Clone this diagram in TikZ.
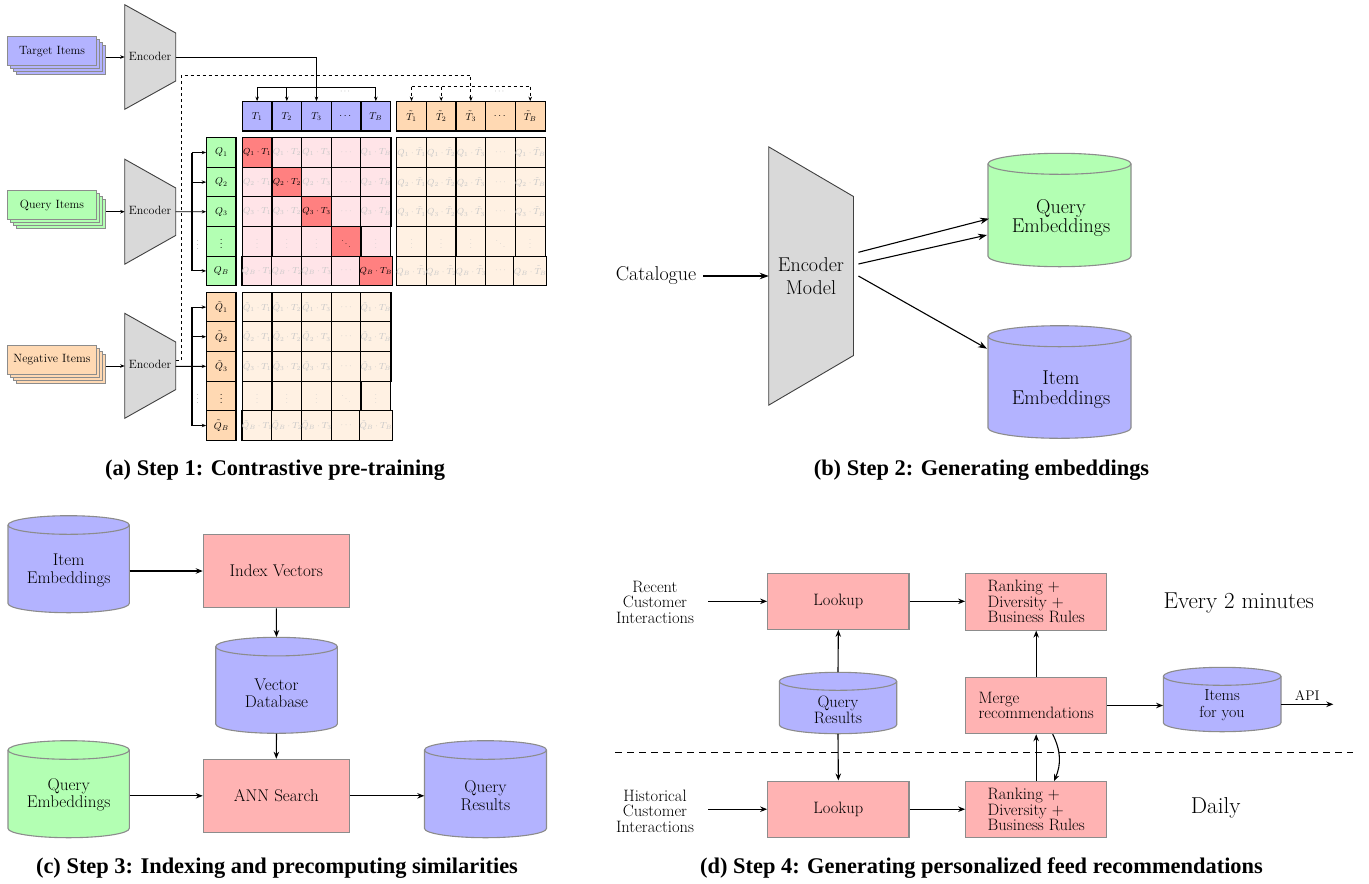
\RequirePackage{fix-cm}
\documentclass[tikz,border=0pt]{standalone}
\usepackage{amsmath}
\usepackage{fontspec}
\newfontfamily\capfont{Liberation Serif}
\usetikzlibrary{arrows.meta,calc}
\definecolor{cblue}{HTML}{B3B3FF}
\definecolor{cgreen}{HTML}{B3FFB3}
\definecolor{cred}{HTML}{FFB3B3}
\definecolor{corange}{HTML}{FFD9B3}
\definecolor{cpink}{HTML}{FFE4E8}
\definecolor{cdiag}{HTML}{FF8080}
\definecolor{cpeach}{HTML}{FFF1E3}
\definecolor{cgray}{HTML}{D9D9D9}
\definecolor{cborder}{HTML}{8C8C8C}
\definecolor{cfaint}{HTML}{C8C8C8}
\newcommand\fs[2]{\fontsize{#1}{#2}\selectfont}
\newcommand\lbl[1]{\ifcase#1\or1\or2\or3\or\relax\or B\fi}
\newcommand\cellm[4]{\ifnum#1=4 \ifnum#2=4 \ddots\else\vdots\fi\else\ifnum#2=4 \cdots\else#3_{\lbl{#1}}\cdot#4_{\lbl{#2}}\fi\fi}
\tikzset{
  arrA/.style={-{Stealth[length=4.5pt,width=3.5pt]}, line width=0.9pt},
  arrB/.style={-{Stealth[length=9pt,width=6.5pt]}, line width=1.1pt},
  arrC/.style={-{Stealth[length=7pt,width=5.5pt]}, line width=1.1pt},
  cell/.style={draw=black, line width=1.1pt, minimum width=29.67pt, minimum height=29.6pt, inner sep=0pt, font=\fs{8.8}{10}},
  hcell/.style={cell, font=\fs{10}{12}},
  stackb/.style={draw=cborder, line width=0.9pt, minimum width=89.4pt, minimum height=29pt, inner sep=0pt, font=\fs{12}{14}},
  encA/.style={fill=cgray, draw=black!75, line width=0.9pt},
  boxC/.style={fill=cred, draw=cborder, line width=1.1pt, inner sep=0pt, font=\fs{17}{17.4}},
  boxD/.style={fill=cred, draw=cborder, line width=1.1pt, inner sep=0pt, font=\fs{16.5}{15.5}, align=left},
  cylline/.style={draw=cborder, line width=1.1pt},
  txtC/.style={inner sep=0pt, align=center, font=\fs{17}{17.4}},
  txtD/.style={inner sep=0pt, align=center, font=\fs{16.5}{15.5}},
  txtB/.style={inner sep=0pt, align=center, font=\fs{20}{19.5}},
  capt/.style={anchor=base, inner sep=0pt, font=\capfont\bfseries\fs{22.4}{26}},
  brk/.style={line width=1.1pt},
  brkthick/.style={line width=1.8pt},
  dotlab/.style={inner sep=0pt, text=black!45, font=\fs{8}{9}}
}
\newcommand\dbcyl[7]{%
  \pgfmathsetmacro\cxa{(#2+#4)/2}%
  \pgfmathsetmacro\cya{(#3+#5)/2}%
  \pgfmathsetmacro\rxa{(#4-#2)/2}%
  \pgfmathsetmacro\yta{#3+#6}%
  \pgfmathsetmacro\yba{#5-#6}%
  \pgfmathsetmacro\wa{#4-#2}%
  \pgfmathsetmacro\ha{#5-#3}%
  \path[cylline, fill=#7] (#2,\yta) -- (#2,\yba) arc[start angle=180,end angle=360,x radius=\rxa pt,y radius=#6pt] -- (#4,\yta) arc[start angle=0,end angle=180,x radius=\rxa pt,y radius=#6pt] -- cycle;
  \draw[cylline] (#2,\yta) arc[start angle=180,end angle=360,x radius=\rxa pt,y radius=#6pt];
  \node[inner sep=0pt, minimum width=\wa pt, minimum height=\ha pt] (#1) at (\cxa,\cya) {};
}
\newcommand\encshape[6]{% xl yc xr hl hr style
  \filldraw[#6] (#1,{#2-#4/2}) -- (#3,{#2-#5/2}) -- (#3,{#2+#5/2}) -- (#1,{#2+#4/2}) -- cycle;
}
\begin{document}
\begin{tikzpicture}[x=1pt,y=-1pt]
\useasboundingbox (0,0) rectangle (1369,884);
\fill[white] (0,0) rectangle (1369,884);

%%%%%%%%%%%%%%%% PANEL (a)
\foreach \k in {3,2,1} \filldraw[draw=cborder, line width=0.9pt, fill=cblue] ({7.3+3*\k},{36.7+3*\k}) rectangle ++(89.4,29);
\node[stackb, fill=cblue] (tgt) at (52,51.2) {Target Items};
\foreach \k in {3,2,1} \filldraw[draw=cborder, line width=0.9pt, fill=cgreen] ({7.3+3*\k},{190.7+3*\k}) rectangle ++(89.4,29);
\node[stackb, fill=cgreen] (qry) at (52,205.2) {Query Items};
\foreach \k in {3,2,1} \filldraw[draw=cborder, line width=0.9pt, fill=corange] ({7.3+3*\k},{345.3+3*\k}) rectangle ++(89.4,29);
\node[stackb, fill=corange] (neg) at (52,359.8) {Negative Items};

\encshape{124.7}{57}{175.7}{104.6}{48}{encA}
\node[inner sep=0pt, font=\fs{12}{14}] (encT) at (150,56) {Encoder};
\encshape{124.7}{211.7}{175.7}{105}{47.5}{encA}
\node[inner sep=0pt, font=\fs{12}{14}] (encQ) at (150,210.7) {Encoder};
\encshape{124.7}{365.8}{175.7}{105}{47.6}{encA}
\node[inner sep=0pt, font=\fs{12}{14}] (encN) at (150,364.8) {Encoder};

\coordinate (tgt-o) at (106,57);   \coordinate (encT-i) at (124.7,57);
\coordinate (qry-o) at (106,211.7); \coordinate (encQ-i) at (124.7,211.7);
\coordinate (neg-o) at (106,366);  \coordinate (encN-i) at (124.7,366);
\draw[arrA] (tgt-o) -- (encT-i);
\draw[arrA] (qry-o) -- (encQ-i);
\draw[arrA] (neg-o) -- (encN-i);

\foreach \j/\lab in {1/T_1,2/T_2,3/T_3,4/\cdots,5/T_B}
  \node[hcell, minimum height=29.3pt, fill=cblue] (t\j) at ({242.3+29.67*(\j-0.5)},116.35) {$\lab$};
\foreach \j/\lab in {1/\tilde{T}_1,2/\tilde{T}_2,3/\tilde{T}_3,4/\cdots,5/\tilde{T}_B}
  \node[hcell, minimum height=29.3pt, fill=corange] (tt\j) at ({396.7+29.67*(\j-0.5)},116.35) {$\lab$};
\foreach \i/\lab in {1/Q_1,2/Q_2,3/Q_3,4/\vdots,5/Q_B}
  \node[hcell, minimum width=29.3pt, fill=cgreen] (q\i) at (221.35,{137.7+29.6*(\i-0.5)}) {$\lab$};
\foreach \i/\lab in {1/\tilde{Q}_1,2/\tilde{Q}_2,3/\tilde{Q}_3,4/\vdots,5/\tilde{Q}_B}
  \node[hcell, minimum width=29.3pt, fill=corange] (qq\i) at (221.35,{292.3+29.6*(\i-0.5)}) {$\lab$};

\foreach \i in {1,...,5}{\foreach \j in {1,...,5}{%
  \ifnum\i=\j \def\cf{cdiag}\def\ct{black}\else\def\cf{cpink}\def\ct{cfaint}\fi
  \node[cell, fill=\cf, text=\ct] (qt-\i-\j) at ({242.3+29.67*(\j-0.5)},{137.7+29.6*(\i-0.5)}) {$\cellm{\i}{\j}{Q}{T}$};
  \node[cell, fill=cpeach, text=cfaint] (qtt-\i-\j) at ({396.7+29.67*(\j-0.5)},{137.7+29.6*(\i-0.5)}) {$\cellm{\i}{\j}{Q}{\tilde{T}}$};
  \node[cell, fill=cpeach, text=cfaint] (qqt-\i-\j) at ({242.3+29.67*(\j-0.5)},{292.3+29.6*(\i-0.5)}) {$\cellm{\i}{\j}{\tilde{Q}}{T}$};
}}

\coordinate (tbar) at (0,87.3);
\coordinate (encT-o) at (175.7,57);
\draw[brk] (t1.north |- tbar) -- (t5.north |- tbar);
\foreach \j in {1,2,5} \draw[arrA] (t\j.north |- tbar) -- (t\j.north);
\draw[arrA] (encT-o) -| (t3.north);
\node[dotlab] (tdots) at (345.7,91.5) {$\cdots$};

\coordinate (ttbar) at (0,86.7);
\coordinate (encN-d) at (175.7,360);
\coordinate (dcorner) at (181.7,75);
\draw[brk, dashed] (tt1.north |- ttbar) -- (tt5.north |- ttbar);
\foreach \j in {1,2,5} \draw[arrA, dashed] (tt\j.north |- ttbar) -- (tt\j.north);
\draw[arrA, dashed] (encN-d) -| (dcorner) -| (tt3.north);
\node[dotlab] (ttdots) at (500,92) {$\cdots$};

\coordinate (qbar) at (191.7,0);
\coordinate (encQ-o) at (175.7,211.7);
\draw[brkthick] (q1.west -| qbar) -- (q5.west -| qbar);
\foreach \i in {1,2,5} \draw[arrA] (q\i.west -| qbar) -- (q\i.west);
\draw[arrA] (encQ-o) -- (q3.west);
\node[dotlab, text=black!60] (qdots) at (197.7,242) {$\vdots$};

\coordinate (encN-o) at (175.7,366.3);
\draw[brkthick] (qq1.west -| qbar) -- (qq5.west -| qbar);
\foreach \i in {1,2,5} \draw[arrA] (qq\i.west -| qbar) -- (qq\i.west);
\draw[arrA] (encN-o) -- (qq3.west);
\node[dotlab, text=black!60] (qqdots) at (197.7,396.5) {$\vdots$};

\node[capt] (capa) at (275,475.5) {(a) Step 1: Contrastive pre-training};

%%%%%%%%%%%%%%%% PANEL (b)
\node[inner xsep=7pt, inner ysep=2pt, font=\fs{20}{24}] (cat) at (656,276) {Catalogue};
\encshape{768.7}{276}{853.5}{258.3}{159}{encA}
\node[txtB, font=\fs{20}{23}] (encM) at (811,276.5) {Encoder\\Model};
\coordinate (encM-i) at (768.7,276);
\draw[arrB] (cat.east) -- (encM-i);
\dbcyl{qeB}{988}{153.3}{1131}{266.7}{10.5}{cgreen}
\node[txtB] (qeBt) at (1061,218) {Query\\Embeddings};
\dbcyl{ieB}{988}{325.7}{1131}{438.3}{10.5}{cblue}
\node[txtB] (ieBt) at (1061,389.7) {Item\\Embeddings};
\coordinate (encM-o1) at (858.4,252.3);
\coordinate (encM-o2) at (858.4,264);
\coordinate (encM-o3) at (858.4,276);
\coordinate (qeB-i1) at (989,218.7);
\coordinate (qeB-i2) at (987,235);
\coordinate (ieB-i) at (987,348.7);
\draw[arrB] (encM-o1) -- (qeB-i1);
\draw[arrB] (encM-o2) -- (qeB-i2);
\draw[arrB] (encM-o3) -- (ieB-i);

\node[capt] (capb) at (981.5,475.5) {(b) Step 2: Generating embeddings};

%%%%%%%%%%%%%%%% PANEL (c)
\dbcyl{ieC}{8}{515.7}{129.3}{612.7}{9.3}{cblue}
\node[txtC] (ieCt) at (68.7,570.4) {Item\\Embeddings};
\node[boxC, minimum width=146pt, minimum height=73.4pt] (idx) at (276.3,571) {Index Vectors};
\dbcyl{vdb}{215.7}{637.3}{337.3}{733.3}{9.3}{cblue}
\node[txtC] (vdbt) at (276.5,693) {Vector\\Database};
\node[boxC, minimum width=146pt, minimum height=73pt] (ann) at (276.3,795.8) {ANN Search};
\dbcyl{qeC}{8}{740.7}{129.3}{837.7}{9.3}{cgreen}
\node[txtC] (qeCt) at (68.7,794.7) {Query\\Embeddings};
\dbcyl{qrC}{424.5}{740.7}{546.5}{837.7}{9.3}{cblue}
\node[txtC] (qrCt) at (485.5,795.5) {Query\\Results};
\draw[arrC] (ieC.east |- idx.west) -- (idx.west);
\draw[arrC] (idx.south) -- (vdb.north);
\draw[arrC] (vdb.south) -- (ann.north);
\draw[arrC] (qeC.east |- ann.west) -- (ann.west);
\draw[arrC] (ann.east) -- (qrC.west |- ann.east);

\node[capt] (capc) at (277,873) {(c) Step 3: Indexing and precomputing similarities};

%%%%%%%%%%%%%%%% PANEL (d)
\node[txtD, inner xsep=14pt] (recent) at (655,602.3) {Recent\\Customer\\Interactions};
\node[txtD, inner xsep=14pt] (hist) at (655,811) {Historical\\Customer\\Interactions};
\node[boxD, minimum width=141.3pt, minimum height=56pt] (lk1) at (838.35,601.3) {Lookup};
\node[boxD, minimum width=141pt, minimum height=56.7pt] (rk1) at (1036.2,601.7) {Ranking +\\Diversity +\\Business Rules};
\node[boxD, minimum width=141pt, minimum height=56.4pt] (merge) at (1036.2,705.5) {Merge\\recommendations};
\node[boxD, minimum width=141.3pt, minimum height=56.3pt] (lk2) at (838.35,809.2) {Lookup};
\node[boxD, minimum width=141pt, minimum height=56pt] (rk2) at (1036.2,809.7) {Ranking +\\Diversity +\\Business Rules};
\dbcyl{qrD}{779.3}{672.3}{896.7}{733.7}{9}{cblue}
\node[txtD, font=\fs{16.5}{14.5}] (qrDt) at (838,709.7) {Query\\Results};
\dbcyl{itD}{1163.3}{667.3}{1281}{731.7}{9}{cblue}
\node[txtD, font=\fs{16}{16.5}] (itDt) at (1222,705) {Items\\for you};
\node[inner sep=0pt, font=\fs{23}{26}] (every) at (1238.7,602.7) {Every 2 minutes};
\node[inner sep=0pt, font=\fs{23}{26}] (daily) at (1215.7,808.3) {Daily};
\draw[dashed, line width=1pt, dash pattern=on 7pt off 5pt] (615,752.7) -- (1353,752.7);
\draw[arrC] (recent.east |- lk1.west) -- (lk1.west);
\draw[arrC] (hist.east |- lk2.west) -- (lk2.west);
\draw[arrC] (lk1.east) -- (rk1.west |- lk1.east);
\draw[arrC] (lk2.east) -- (rk2.west |- lk2.east);
\draw[arrC] (qrD.north) -- (lk1.south);
\draw[arrC] (qrD.south) -- (lk2.north);
\draw[arrC] (rk2.north) -- (merge.south);
\draw[arrC] (merge.north) -- (rk1.south);
\draw[arrC] (merge.east) -- (itD.west |- merge.east);
\coordinate (apiend) at (1333.3,704.3);
\draw[arrC] (itD.east |- apiend) -- (apiend) node[midway, above=3pt, inner sep=0pt, font=\fs{14}{16}] (api) {API};
\draw[arrC] ($(merge.south)+(16.5,0)$) to[bend left=25] ($(rk2.north)+(17.8,0)$);

\node[capt] (capd) at (981.5,873) {(d) Step 4: Generating personalized feed recommendations};
\end{tikzpicture}
\end{document}
